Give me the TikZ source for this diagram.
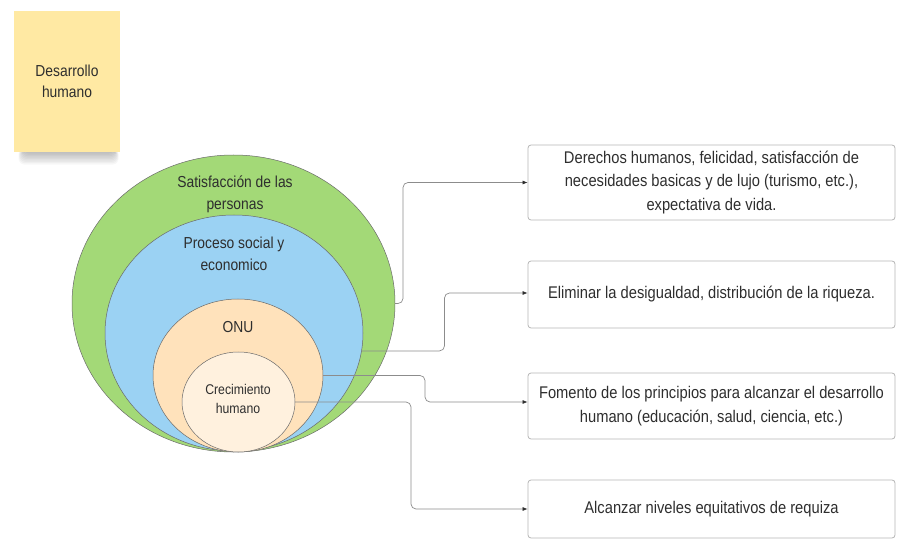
\documentclass[tikz,border=0pt]{standalone}
\usepackage{fontspec}
\setmainfont{Liberation Sans}[FakeStretch=0.87]
\usetikzlibrary{shapes.geometric,arrows.meta,calc}
\definecolor{cgreen}{HTML}{A3D977}
\definecolor{cblue}{HTML}{9BD2F3}
\definecolor{cpeach}{HTML}{FFE2BB}
\definecolor{ccream}{HTML}{FFF1DE}
\definecolor{csticky}{HTML}{FFE9A3}
\definecolor{ctext}{HTML}{2E2E2E}
\definecolor{cboxline}{HTML}{B4B4B4}
\definecolor{cconn}{HTML}{8C8C8C}
\definecolor{cring}{HTML}{6A6A6A}
\begin{document}
\begin{tikzpicture}[x=1pt,y=-1pt,
  ring/.style={ellipse,draw=cring,line width=0.5pt,inner sep=0pt,outer sep=0pt},
  ringtext/.style={text=ctext,align=center,font=\fontsize{15.9}{22.5}\selectfont},
  infobox/.style={draw=cboxline,line width=0.8pt,rounded corners=3pt,minimum width=367pt,
     text=ctext,align=center,font=\fontsize{16.9}{23.5}\selectfont,inner sep=0pt},
  conn/.style={draw=cconn,line width=0.7pt,rounded corners=5pt,
     -{Latex[length=5pt,width=4pt,color=ctext]}}]
\useasboundingbox (0,0) rectangle (919,556);
% sticky note shadow
\foreach \i in {0,...,9}{
  \fill[black,opacity=0.03,rounded corners=6pt] (24-\i*0.6,148) rectangle (114+\i*0.5,152+\i*1.4);
}
\node[fill=csticky,minimum width=106pt,minimum height=141pt,inner sep=0pt,
  text=ctext,align=center,font=\fontsize{15.9}{21}\selectfont] (note) at (67,81.5) {Desarrollo\\humano};
% rings
\node[ring,fill=cgreen,minimum width=323pt,minimum height=297pt] (green) at (233.5,303.5) {};
\node[ring,fill=cblue,minimum width=258pt,minimum height=236pt] (blue) at (234,333) {};
\node[ring,fill=cpeach,minimum width=170pt,minimum height=153pt] (onu) at (238,375.5) {};
\node[ring,fill=ccream,minimum width=113pt,minimum height=100pt] (crec) at (238.5,402) {};
% ring labels
\node[ringtext] (tgreen) at (235,194.5) {Satisfacción de las\\personas};
\node[ringtext] (tblue) at (234,254) {Proceso social y\\economico};
\node[ringtext] (tonu) at (238,327) {ONU};
\node[ringtext,font=\fontsize{14.1}{19}\selectfont] (tcrec) at (238,398.5) {Crecimiento\\humano};
% boxes
\node[infobox,minimum height=75pt] (box1) at (711.5,182.5)
  {Derechos humanos, felicidad, satisfacción de\\necesidades basicas y de lujo (turismo, etc.),\\expectativa de vida.};
\node[infobox,minimum height=67pt] (box2) at (711.5,294.5)
  {Eliminar la desigualdad, distribución de la riqueza.};
\node[infobox,minimum height=66pt] (box3) at (711.5,406)
  {Fomento de los principios para alcanzar el desarrollo\\humano (educación, salud, ciencia, etc.)};
\node[infobox,minimum height=58pt] (box4) at (711.5,509)
  {Alcanzar niveles equitativos de requiza};
% connectors
\draw[conn] (green.east) -- ++(8,0) |- (box1.west);
\draw[conn] (blue.-8) -- ++(83,0) |- ([yshift=1.5pt]box2.west);
\draw[conn] (onu.east) -- ++(102,0) |- ([yshift=4pt]box3.west);
\draw[conn] (crec.east) -- ++(116,0) |- (box4.west);
\end{tikzpicture}
\end{document}
